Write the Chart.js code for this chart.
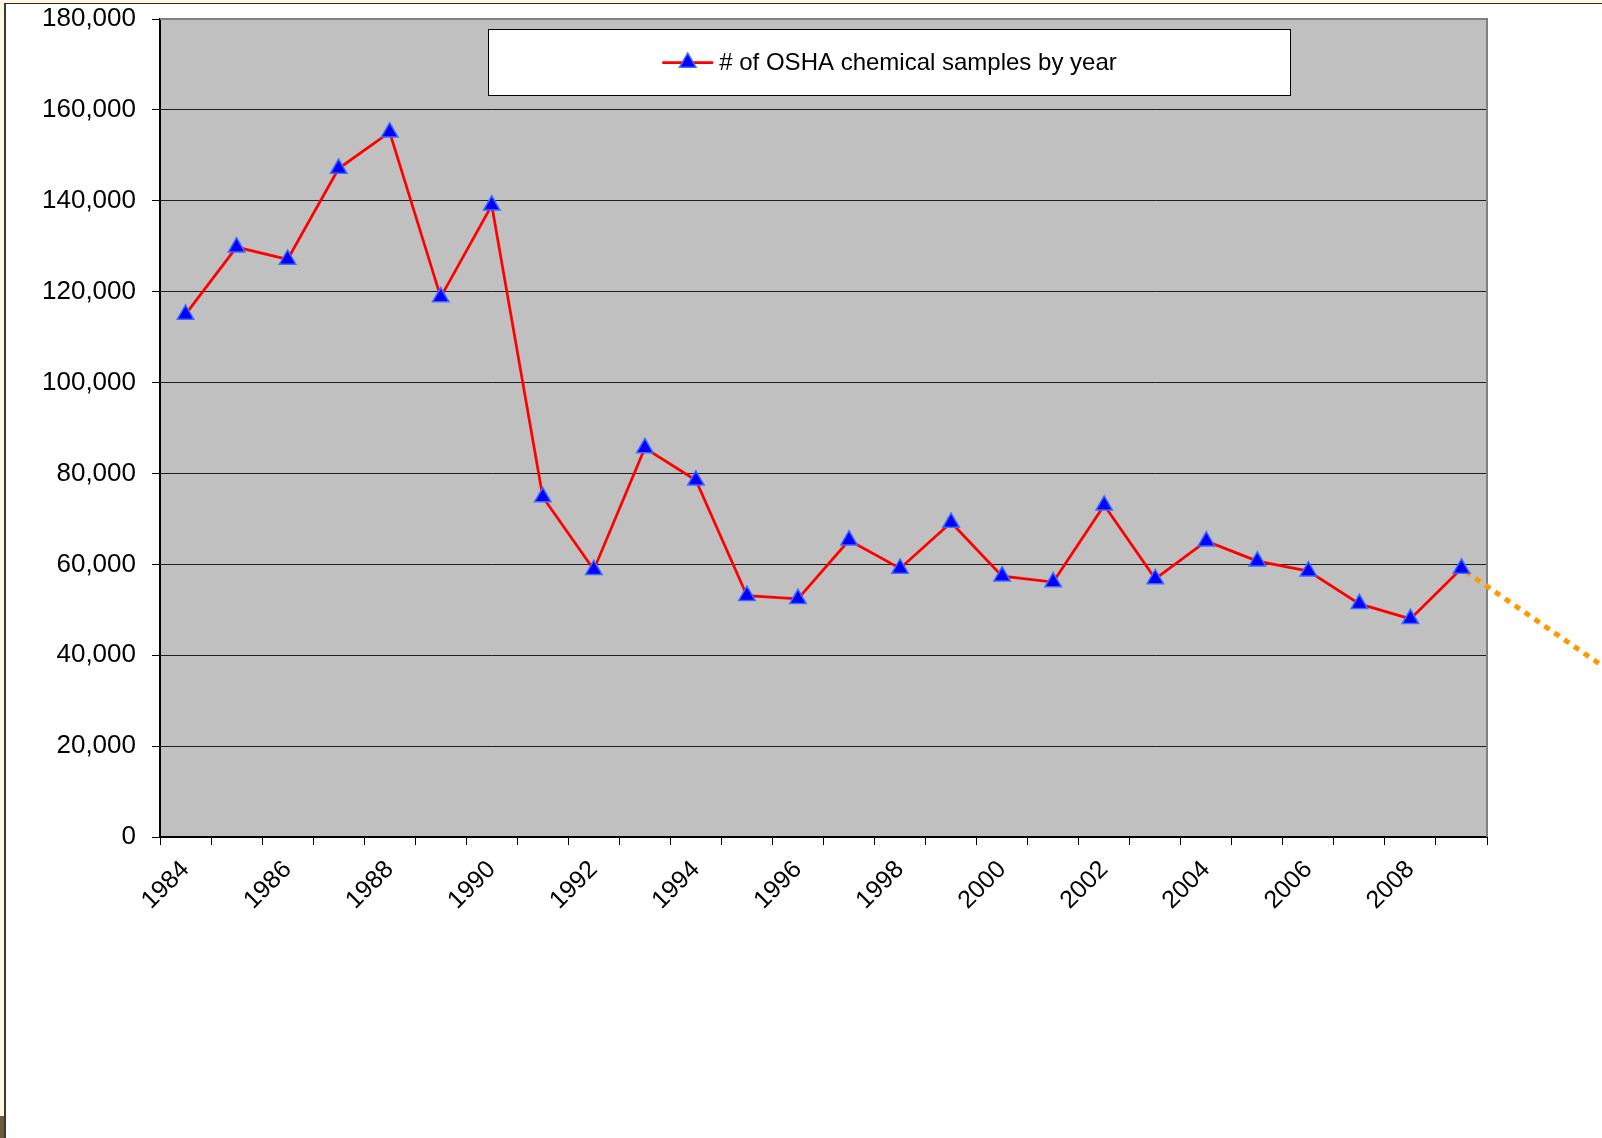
<!DOCTYPE html>
<html>
<head>
<meta charset="utf-8">
<script src="https://cdn.jsdelivr.net/npm/chart.js@4.4.1/dist/chart.umd.min.js"></script>
<style>
  html, body { margin: 0; padding: 0; width: 1602px; height: 1138px; overflow: hidden; background: #FFF8E0; }
  #sheet { position: absolute; left: 4px; top: 3px; right: 0; bottom: 0; background: #ffffff;
           border-left: 2px solid #3a3a3a; border-top: 1px solid #2a2a2a; }
  #corner { position: absolute; left: 0; top: 1116px; width: 4px; height: 22px; background: #6e5b3e; }
  #wrap { position: absolute; left: 0; top: 0; width: 1602px; height: 1138px; }
</style>
</head>
<body>
<div id="sheet"></div>
<div id="corner"></div>
<div id="wrap"><canvas id="chart" width="1602" height="1138"></canvas></div>
<script>
// Years sampled
const years = ['1984', '1985', '1986', '1987', '1988', '1989', '1990', '1991', '1992', '1993',
               '1994', '1995', '1996', '1997', '1998', '1999', '2000', '2001', '2002', '2003',
               '2004', '2005', '2006', '2007', '2008', '2009'];

// Number of OSHA chemical samples taken in each year
const samples = [115000, 129800, 127100, 147100, 155100, 118800, 139000, 74800, 58800, 85600,
                 78500, 53100, 52400, 65300, 59100, 69200, 57400, 56100, 73000, 56800,
                 65100, 60700, 58500, 51300, 48000, 59100];

// Value axis ticks
const yTickValues = [0, 20000, 40000, 60000, 80000, 100000, 120000, 140000, 160000, 180000];

const seriesLabel = '# of OSHA chemical samples by year';

const FONT = "'Liberation Sans', Arial, sans-serif";

// Grey plot area fill
const plotBackground = {
  id: 'plotBackground',
  beforeDraw(chart) {
    const { ctx, chartArea: a } = chart;
    ctx.save();
    ctx.fillStyle = '#C0C0C0';
    ctx.fillRect(a.left, a.top, a.right - a.left, a.bottom - a.top);
    ctx.restore();
  }
};

// Grey frame on the top and right of the plot area
const plotFrame = {
  id: 'plotFrame',
  beforeDatasetsDraw(chart) {
    const { ctx, chartArea: a } = chart;
    ctx.save();
    ctx.strokeStyle = '#808080';
    ctx.lineWidth = 2;
    ctx.beginPath();
    ctx.moveTo(a.left, a.top);
    ctx.lineTo(a.right, a.top);
    ctx.lineTo(a.right, a.bottom);
    ctx.stroke();
    ctx.restore();
  }
};

// Dotted orange pointer leaving the last point towards the right edge
const pointer = {
  id: 'pointer',
  beforeDatasetsDraw(chart) {
    const meta = chart.getDatasetMeta(0);
    const last = meta.data[meta.data.length - 1];
    if (!last) return;
    const { ctx, width } = chart;
    const slope = 0.69;
    ctx.save();
    ctx.strokeStyle = '#FF9900';
    ctx.lineWidth = 5;
    ctx.setLineDash([6, 6]);
    ctx.beginPath();
    ctx.moveTo(last.x + 4, last.y + 3);
    ctx.lineTo(width, last.y + 3 + slope * (width - last.x - 4));
    ctx.stroke();
    ctx.restore();
  }
};

// Triangle marker, same geometry as the series points
function triangle(ctx, x, y, r) {
  let rad = 0;
  ctx.beginPath();
  ctx.moveTo(x + Math.sin(rad) * r, y - Math.cos(rad) * r);
  rad += 2 * Math.PI / 3;
  ctx.lineTo(x + Math.sin(rad) * r, y - Math.cos(rad) * r);
  rad += 2 * Math.PI / 3;
  ctx.lineTo(x + Math.sin(rad) * r, y - Math.cos(rad) * r);
  ctx.closePath();
}

// Boxed legend inside the plot area
const boxLegend = {
  id: 'boxLegend',
  afterDraw(chart) {
    const { ctx, chartArea: a } = chart;
    const ds = chart.data.datasets[0];
    const box = { x: a.left + 328, y: a.top + 10, w: 803, h: 67 };
    ctx.save();
    ctx.fillStyle = '#ffffff';
    ctx.fillRect(box.x, box.y, box.w, box.h);
    ctx.strokeStyle = '#000000';
    ctx.lineWidth = 1;
    ctx.strokeRect(box.x + 0.5, box.y + 0.5, box.w - 1, box.h - 1);

    ctx.font = '24px ' + FONT;
    const tw = ctx.measureText(ds.label).width;
    const sym = 51, gap = 6;
    const total = sym + gap + tw;
    const sx = box.x + (box.w - total) / 2;
    const cy = box.y + box.h / 2;

    ctx.strokeStyle = ds.borderColor;
    ctx.lineWidth = ds.borderWidth;
    ctx.beginPath();
    ctx.moveTo(sx, cy);
    ctx.lineTo(sx + sym, cy);
    ctx.stroke();

    ctx.fillStyle = ds.pointBackgroundColor;
    ctx.strokeStyle = ds.pointBorderColor;
    ctx.lineWidth = ds.pointBorderWidth;
    triangle(ctx, sx + sym / 2, cy, ds.pointRadius);
    ctx.fill();
    ctx.stroke();

    ctx.fillStyle = '#000000';
    ctx.textBaseline = 'middle';
    ctx.textAlign = 'left';
    ctx.fillText(ds.label, sx + sym + gap, cy + 1);
    ctx.restore();
  }
};

new Chart(document.getElementById('chart'), {
  type: 'line',
  data: {
    labels: years,
    datasets: [{
      label: seriesLabel,
      data: samples,
      borderColor: '#FF0000',
      borderWidth: 2.75,
      tension: 0,
      fill: false,
      pointStyle: 'triangle',
      pointRadius: 9.5,
      pointBackgroundColor: '#0000FF',
      pointBorderColor: '#3D6BFF',
      pointBorderWidth: 1.5
    }]
  },
  options: {
    responsive: false,
    animation: false,
    devicePixelRatio: 1,
    layout: { padding: { top: 19, right: 115, left: 0, bottom: 0 } },
    plugins: {
      legend: { display: false },
      tooltip: { enabled: false },
      title: { display: false }
    },
    scales: {
      x: {
        type: 'category',
        offset: true,
        afterFit(scale) { scale.height = 301; },
        grid: {
          offset: true,
          drawOnChartArea: false,
          drawTicks: true,
          tickLength: 8,
          tickColor: '#000000',
          tickWidth: 1
        },
        border: { display: true, color: '#000000', width: 2 },
        ticks: {
          autoSkip: false,
          maxRotation: 45,
          minRotation: 45,
          padding: 10,
          color: '#000000',
          font: { family: FONT, size: 25 },
          callback(value, index) { return index % 2 === 0 ? this.getLabelForValue(value) : ''; }
        }
      },
      y: {
        min: 0,
        max: 180000,
        afterFit(scale) {
          scale.width = 160;
          scale.paddingTop = 0;
          scale.paddingBottom = 0;
        },
        afterBuildTicks(scale) { scale.ticks = yTickValues.map(v => ({ value: v })); },
        grid: {
          drawOnChartArea: true,
          color: '#1e1e1e',
          lineWidth: 1,
          drawTicks: true,
          tickLength: 8,
          tickColor: '#000000'
        },
        border: { display: true, color: '#000000', width: 2 },
        ticks: {
          padding: 16,
          color: '#000000',
          font: { family: FONT, size: 26 },
          callback(value) { return value.toLocaleString('en-US'); }
        }
      }
    }
  },
  plugins: [plotBackground, plotFrame, pointer, boxLegend]
});
</script>
</body>
</html>
